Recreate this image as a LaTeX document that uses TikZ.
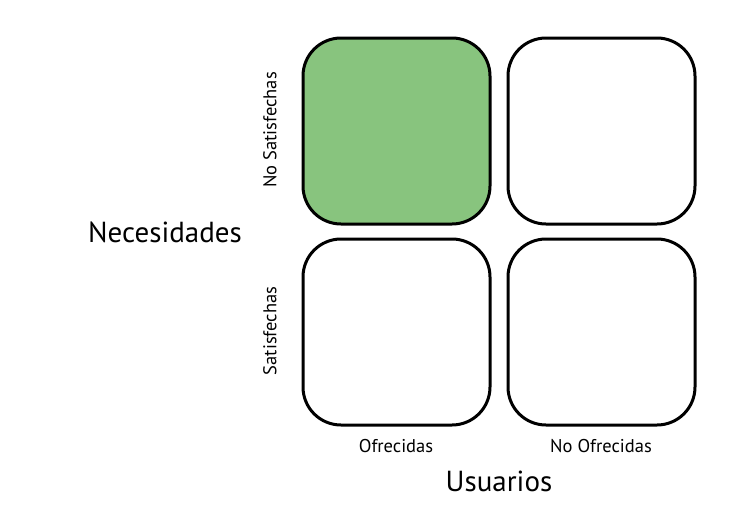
\documentclass[tikz,border=0pt]{standalone}
\usepackage{fontspec}
\setmainfont{PT Sans}
\definecolor{boxgreen}{HTML}{88C47E}
\begin{document}
\begin{tikzpicture}[x=1pt,y=-1pt,
  cell/.style={draw=black,line width=3pt,rounded corners=38pt},
  small/.style={font=\fontsize{18.5}{20}\selectfont},
  big/.style={font=\fontsize{29}{33}\selectfont}]
\useasboundingbox (0,0) rectangle (750,522);
\draw[cell,fill=boxgreen] (303,38) rectangle (490,224);
\draw[cell,fill=white] (508,38) rectangle (695,224);
\draw[cell,fill=white] (303,239) rectangle (490,425);
\draw[cell,fill=white] (508,239) rectangle (695,425);
\node[small,rotate=90] (ns) at (270,130) {No Satisfechas};
\node[small,rotate=90] (s) at (270,331) {Satisfechas};
\node[small] (of) at (396,446) {Ofrecidas};
\node[small] (nof) at (601,446) {No Ofrecidas};
\node[big] (nec) at (165,232) {Necesidades};
\node[big] (usu) at (499,481) {Usuarios};
\end{tikzpicture}
\end{document}
